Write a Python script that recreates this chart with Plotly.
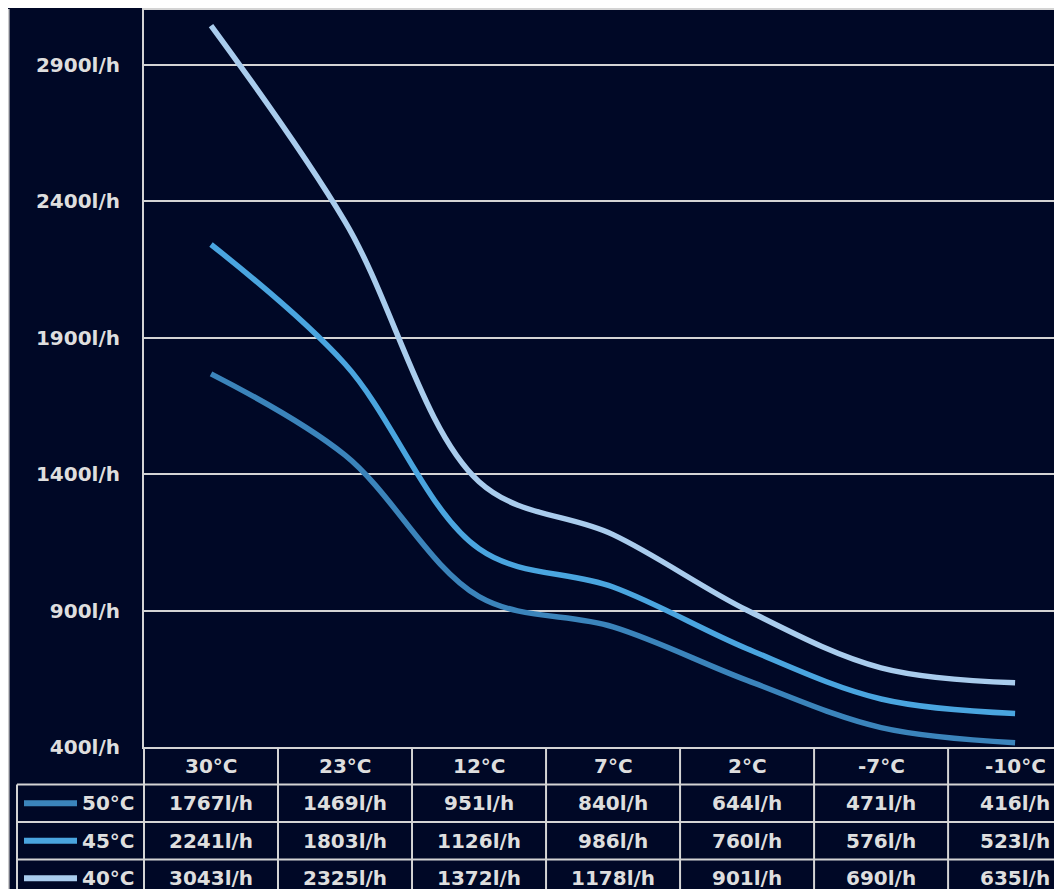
import plotly.graph_objects as go

categories = ["30°C", "23°C", "12°C", "7°C", "2°C", "-7°C", "-10°C"]
series_names = ["50°C", "45°C", "40°C"]
flow_50 = [1767, 1469, 951, 840, 644, 471, 416]
flow_45 = [2241, 1803, 1126, 986, 760, 576, 523]
flow_40 = [3043, 2325, 1372, 1178, 901, 690, 635]
y_ticks = [400, 900, 1400, 1900, 2400, 2900]

series = [flow_50, flow_45, flow_40]
colors = ["#3b84bb", "#4aa5df", "#a9cced"]

BG = "#000826"
GRID = "#d4d4d4"
TXT = "#dedede"
FONT = "DejaVu Sans"
FS = 20

OFF = 8  # page body margin; layout below is given in page pixels
W, H = 1062 - OFF, 889 - OFF
L, R, T, B = 144 - OFF, 1062 - OFF, 10 - OFF, 747 - OFF  # plot area (figure px)
X_RANGE = [-0.5, 6.35]
ROW_H = 37.5


def px_x(px):
    return (px - OFF - L) / (R - L)


def px_y(py):
    return (B - (py - OFF)) / (B - T)


def cat_x(v):
    return (v - X_RANGE[0]) / (X_RANGE[1] - X_RANGE[0])


fig = go.Figure()
for name, vals, col in zip(series_names, series, colors):
    fig.add_trace(go.Scatter(
        x=list(range(len(categories))), y=vals, name=name, mode="lines",
        line=dict(color=col, width=5.5, shape="spline", smoothing=1.0),
    ))

shapes = []
line_style = dict(color=GRID, width=2)
table_top = 747

# table horizontal lines (below axis)
n_rows = len(series)
for r in range(1, n_rows + 2):
    yy = px_y(table_top + ROW_H * r)
    shapes.append(dict(type="line", xref="paper", yref="paper",
                       x0=px_x(17), x1=1.02, y0=yy, y1=yy, line=line_style))
# column boundaries
for i in range(len(categories) + 1):
    xx = cat_x(i - 0.5)
    shapes.append(dict(type="line", xref="paper", yref="paper",
                       x0=xx, x1=xx, y0=0, y1=px_y(900), line=line_style))
# legend column left border
shapes.append(dict(type="line", xref="paper", yref="paper",
                   x0=px_x(17), x1=px_x(17), y0=px_y(table_top + ROW_H), y1=px_y(900),
                   line=line_style))

# cut-off neighbour border on far left
shapes.append(dict(type="line", xref="paper", yref="paper",
                   x0=px_x(OFF + 0.8), x1=px_x(OFF + 0.8), y0=px_y(OFF + 1), y1=px_y(900),
                   line=dict(color=GRID, width=1.5)))

annotations = []
cell_font = dict(family=FONT, size=FS, color=TXT, weight="bold")
# header row
for i, c in enumerate(categories):
    annotations.append(dict(x=i, y=px_y(table_top + ROW_H / 2), xref="x", yref="paper",
                            text=c, showarrow=False, xanchor="center", yanchor="middle",
                            font=cell_font))
# value rows + legend keys
for r, (name, vals, col) in enumerate(zip(series_names, series, colors)):
    yc = px_y(table_top + ROW_H * (r + 1.5))
    for i, v in enumerate(vals):
        annotations.append(dict(x=i, y=yc, xref="x", yref="paper",
                                text=f"{v}l/h", showarrow=False,
                                xanchor="center", yanchor="middle", font=cell_font))
    shapes.append(dict(type="line", xref="paper", yref="paper",
                       x0=px_x(24), x1=px_x(77), y0=yc, y1=yc,
                       line=dict(color=col, width=6)))
    annotations.append(dict(x=px_x(137), y=yc, xref="paper", yref="paper",
                            text=name, showarrow=False, xanchor="right", yanchor="middle",
                            font=cell_font))

fig.update_layout(
    width=W, height=H,
    margin=dict(l=L, r=W - R, t=T, b=H - B),
    paper_bgcolor=BG, plot_bgcolor=BG,
    showlegend=False,
    shapes=shapes, annotations=annotations,
    xaxis=dict(range=X_RANGE, showgrid=False, zeroline=False, showticklabels=False,
               showline=True, mirror=True, linecolor=GRID, linewidth=2),
    yaxis=dict(range=[400, 3100], tickvals=y_ticks,
               ticktext=[f"{v}l/h" for v in y_ticks],
               showgrid=True, gridcolor=GRID, gridwidth=1.5, zeroline=False,
               showline=True, linecolor=GRID, linewidth=2,
               ticklabelstandoff=18,
               tickfont=dict(family=FONT, size=FS, color=TXT, weight="bold")),
)

fig.write_html("out.html")
